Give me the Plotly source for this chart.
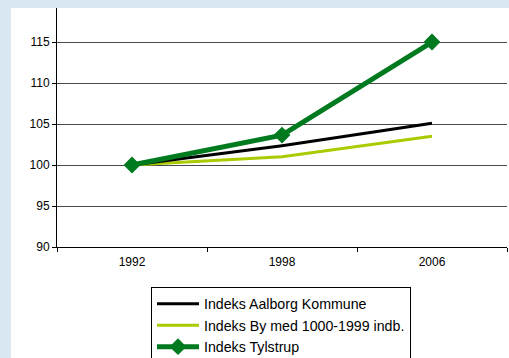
import plotly.graph_objects as go

years = ["1992", "1998", "2006"]
aalborg = [100.0, 102.35, 105.1]
by_1000 = [100.0, 101.0, 103.5]
tylstrup = [100.0, 103.65, 115.0]
y_ticks = [90, 95, 100, 105, 110, 115]

names = ["Indeks Aalborg Kommune", "Indeks By med 1000-1999 indb.", "Indeks Tylstrup"]

fig = go.Figure()
fig.add_trace(go.Scatter(x=years, y=by_1000, name=names[1], mode="lines",
                         line=dict(color="#a8cc00", width=3), legendrank=2))
fig.add_trace(go.Scatter(x=years, y=aalborg, name=names[0], mode="lines",
                         line=dict(color="#000000", width=3), legendrank=1))
fig.add_trace(go.Scatter(x=years, y=tylstrup, name=names[2], mode="lines+markers",
                         line=dict(color="#007a1e", width=5),
                         marker=dict(symbol="diamond", size=13, color="#007a1e"),
                         legendrank=3))

PW, PH = 450, 239
blue = "#d9e8f3"
fig.update_layout(
    width=509, height=358,
    margin=dict(l=57, r=2, t=8, b=111, autoexpand=False),
    paper_bgcolor="white",
    plot_bgcolor="white",
    font=dict(family="Liberation Sans, Arial", size=12, color="#000000"),
    shapes=[
        dict(type="rect", xref="paper", yref="paper",
             x0=-57/PW, x1=452/PW, y0=1.0, y1=1 + 8/PH,
             fillcolor=blue, line=dict(width=0), layer="above"),
        dict(type="rect", xref="paper", yref="paper",
             x0=-57/PW, x1=-46/PW, y0=-111/PH, y1=1 + 8/PH,
             fillcolor=blue, line=dict(width=0), layer="above"),
    ],
    legend=dict(x=(151-57)/PW, y=(247-287)/PH, xanchor="left", yanchor="top",
                bordercolor="#000000", borderwidth=1, bgcolor="white",
                font=dict(size=14.2), traceorder="normal",
                itemwidth=42, tracegroupgap=0),
    showlegend=True,
)
fig.update_xaxes(type="category", range=[-0.5, 2.5], showline=True, linecolor="#000000",
                 linewidth=1, ticks="outside", tickson="boundaries", ticklen=4,
                 tickcolor="#000000", showgrid=False, tickfont=dict(size=12),
                 ticklabelstandoff=4)
fig.update_yaxes(range=[90, 119.15], tickvals=y_ticks, showline=True, linecolor="#000000",
                 linewidth=1, ticks="outside", ticklen=4, tickcolor="#000000",
                 showgrid=True, gridcolor="#4a4a4a", gridwidth=1, zeroline=False,
                 tickfont=dict(size=12))

fig.write_html("out.html", config={"displayModeBar": False},
               post_script="document.body.style.margin='0';document.body.style.overflow='hidden';")
